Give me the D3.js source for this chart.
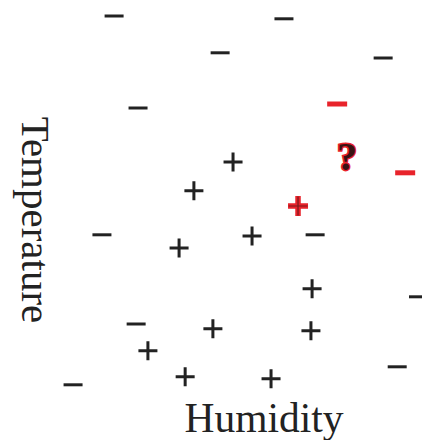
<!DOCTYPE html>
<html>
<head>
<meta charset="utf-8">
<script src="https://cdn.jsdelivr.net/npm/d3@7/dist/d3.min.js"></script>
<style>
  html, body { margin: 0; padding: 0; background: #fff; }
  svg { display: block; }
</style>
</head>
<body>
<svg id="chart" width="422" height="440"></svg>
<script>
// Training examples: humidity / temperature readings with their class
const posHumidity = [50.8, 40.5, 36.6, 55.8, 71.6, 45.5, 71.3, 28.4, 38.2, 60.8];
const posTemperature = [59.5, 52.3, 38.0, 41.0, 27.8, 17.8, 17.3, 12.3, 5.8, 5.3];

const negHumidity = [19.5, 64.2, 47.4, 90.3, 25.8, 16.3, 72.4, 25.3, 99.6, 8.7, 94.0];
const negTemperature = [96.0, 95.3, 86.8, 85.5, 73.0, 41.3, 41.3, 19.0, 25.8, 3.8, 8.3];

// Highlighted examples (nearest neighbours of the query)
const hiPosHumidity = [67.9];
const hiPosTemperature = [48.5];
const hiNegHumidity = [78.2, 96.1];
const hiNegTemperature = [74.0, 56.8];

// Query point to classify
const queryHumidity = [80.8];
const queryTemperature = [60.8];

const axisLabels = ["Humidity", "Temperature"];

const svg = d3.select("#chart");
const x = d3.scaleLinear().domain([0, 100]).range([40, 420]);
const y = d3.scaleLinear().domain([0, 100]).range([400, 0]);

const dark = "#222";
const red = "#e8232b";
const half = 9.5;

const zip = (a, b) => a.map((v, i) => ({ h: v, t: b[i] }));

function minusPath(d) {
  const cx = x(d.h), cy = y(d.t);
  return `M${cx - half},${cy}H${cx + half}`;
}
function plusPath(d) {
  const cx = x(d.h), cy = y(d.t);
  return `M${cx - half},${cy}H${cx + half}M${cx},${cy - half}V${cy + half}`;
}

const g = svg.append("g");

g.selectAll("path.neg").data(zip(negHumidity, negTemperature)).join("path")
  .attr("class", "neg")
  .attr("d", minusPath)
  .attr("stroke", dark).attr("stroke-width", 3).attr("fill", "none");

g.selectAll("path.pos").data(zip(posHumidity, posTemperature)).join("path")
  .attr("class", "pos")
  .attr("d", plusPath)
  .attr("stroke", dark).attr("stroke-width", 3).attr("fill", "none");

g.selectAll("path.hineg").data(zip(hiNegHumidity, hiNegTemperature)).join("path")
  .attr("class", "hineg")
  .attr("d", d => { const cx = x(d.h), cy = y(d.t); return `M${cx - 10},${cy}H${cx + 10}`; })
  .attr("stroke", red).attr("stroke-width", 5).attr("fill", "none");

const hiPos = g.selectAll("g.hipos").data(zip(hiPosHumidity, hiPosTemperature)).join("g")
  .attr("class", "hipos");
hiPos.append("path")
  .attr("d", d => { const cx = x(d.h), cy = y(d.t); return `M${cx - 10},${cy}H${cx + 10}M${cx},${cy - 10}V${cy + 10}`; })
  .attr("stroke", red).attr("stroke-width", 5.5).attr("fill", "none");
hiPos.append("path")
  .attr("d", plusPath)
  .attr("stroke", "#7a1a1e").attr("stroke-width", 1.2).attr("fill", "none");

g.selectAll("text.query").data(zip(queryHumidity, queryTemperature)).join("text")
  .attr("class", "query")
  .attr("x", d => x(d.h))
  .attr("y", d => y(d.t) + 13)
  .attr("text-anchor", "middle")
  .attr("font-family", "Liberation Serif, serif")
  .attr("font-weight", "bold")
  .attr("font-size", 40)
  .attr("fill", "#3a1214")
  .attr("stroke", red).attr("stroke-width", 3)
  .attr("paint-order", "stroke")
  .text("?");

// Axis titles
svg.append("text")
  .attr("x", 264).attr("y", 432)
  .attr("text-anchor", "middle")
  .attr("font-family", "Liberation Serif, serif")
  .attr("font-size", 41.5)
  .attr("fill", "#222")
  .text(axisLabels[0]);

svg.append("text")
  .attr("transform", "translate(22,220) rotate(90)")
  .attr("text-anchor", "middle")
  .attr("font-family", "Liberation Serif, serif")
  .attr("font-size", 41)
  .attr("fill", "#222")
  .text(axisLabels[1]);
</script>
</body>
</html>
